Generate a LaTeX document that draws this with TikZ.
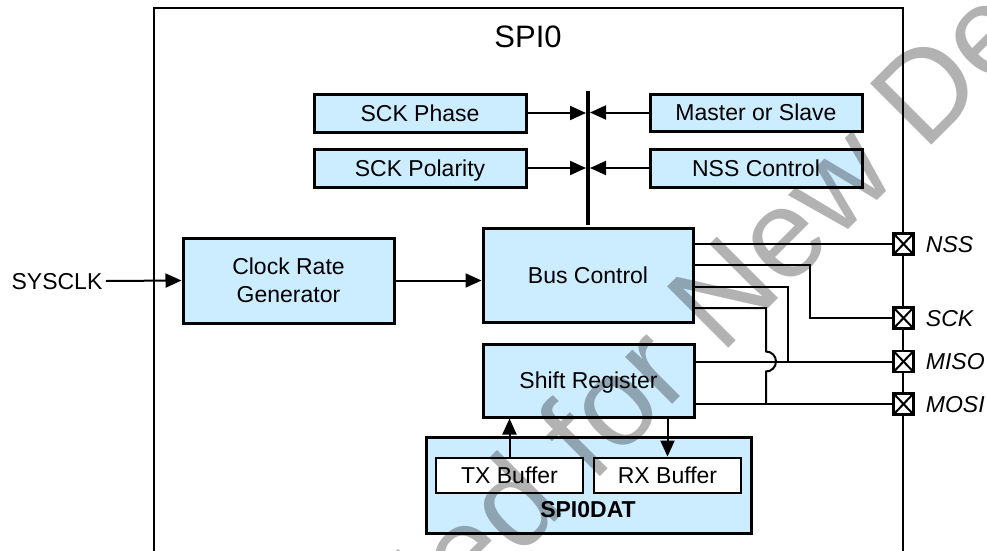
\documentclass[tikz,border=0pt]{standalone}
\usepackage{fontspec}
\setmainfont{Liberation Sans}
\usetikzlibrary{arrows.meta,calc}
\definecolor{boxblue}{RGB}{204,236,255}
\begin{document}
\begin{tikzpicture}[x=1pt,y=-1pt,
  txt/.style={font=\fontsize{23}{28}\selectfont},
  capline/.style={text height=16.6pt, text depth=0pt},
  blk/.style={draw=black, line width=3pt, fill=boxblue, inner sep=0pt, align=center, txt},
  wbox/.style={draw=black, line width=2.8pt, fill=white, inner sep=0pt, txt, capline},
  wire/.style={line width=2pt},
  arr/.style={line width=2pt, -{Triangle[length=16pt,width=14pt]}},
  port/.style={draw=black, line width=2.4pt, fill=white, minimum width=20pt, minimum height=21pt, inner sep=0pt,
    path picture={\draw[line width=2pt] (path picture bounding box.north west)--(path picture bounding box.south east)
      (path picture bounding box.north east)--(path picture bounding box.south west);}},
  plabel/.style={anchor=west, inner sep=0pt, xshift=11pt, capline, font=\fontsize{23}{27}\selectfont\itshape},
  wm/.style={text=black, opacity=0.3, font=\fontsize{126}{126}\selectfont, inner sep=0pt, rotate=45}
]
\useasboundingbox (0,0) rectangle (987,551);
\begin{scope}
\clip (0,0) rectangle (987,551);
% outer block
\draw[line width=2.4pt] (154,8) rectangle (903,600);
\node[font=\fontsize{31}{36}\selectfont, text height=22.2pt, text depth=0pt] (title) at (528,36) {SPI0};

% configuration blocks
\node[blk, capline, minimum width=212pt, minimum height=38pt] (phase) at (420,113) {SCK Phase};
\node[blk, capline, minimum width=212pt, minimum height=38pt] (pol) at (420,168) {SCK Polarity};
\node[blk, capline, minimum width=212pt, minimum height=37pt] (mos) at (756,112.5) {Master or Slave};
\node[blk, capline, minimum width=212pt, minimum height=38pt] (nssc) at (756,168) {NSS Control};

\coordinate (bustop) at (588,91);
\coordinate (busbot) at (588,225);
\draw[line width=4pt] (bustop) -- (busbot);
\draw[arr, shorten >=2pt] (phase.east) -- (phase.east -| bustop);
\draw[arr, shorten >=2pt] (pol.east) -- (pol.east -| bustop);
\draw[arr, shorten >=2pt] (mos.west) -- (mos.west -| bustop);
\draw[arr, shorten >=2pt] (nssc.west) -- (nssc.west -| bustop);

% main blocks
\node[blk, minimum width=211pt, minimum height=85pt] (crg) at (288.5,280.5) {Clock Rate\\Generator};
\node[blk, capline, minimum width=210pt, minimum height=94pt] (bus) at (588,275) {Bus Control};
\node[blk, capline, minimum width=211pt, minimum height=73pt] (shift) at (588.5,380.5) {Shift Register};
\node[blk, minimum width=325pt, minimum height=96pt] (dat) at (588.5,485) {};
\node[wbox, minimum width=147pt, minimum height=35pt] (tx) at (509.5,475.5) {TX Buffer};
\node[wbox, minimum width=147pt, minimum height=35pt] (rx) at (667.5,475.5) {RX Buffer};
\node[font=\fontsize{23}{27}\selectfont\bfseries, capline, inner sep=0pt] (datlbl) at (588,509) {SPI0DAT};

\node[txt, capline] (sysclk) at (57,281) {SYSCLK};
\draw[arr] (sysclk.east) -- (crg.west);
\draw[arr] (crg.east) -- (crg.east -| bus.west);
\draw[arr] (tx.north) -- (tx.north |- shift.south);
\draw[arr] (rx.north |- shift.south) -- (rx.north);

% ports
\node[port] (pnss) at (903.5,244) {};
\node[port] (psck) at (903.5,318) {};
\node[port] (pmiso) at (903.5,361.5) {};
\node[port] (pmosi) at (903.5,404) {};
\node[plabel] (lnss) at (pnss.east) {NSS};
\node[plabel] (lsck) at (psck.east) {SCK};
\node[plabel] (lmiso) at (pmiso.east) {MISO};
\node[plabel] (lmosi) at (pmosi.east) {MOSI};

% wiring
\coordinate (ysck) at (0,265);
\coordinate (ymiso) at (0,287);
\coordinate (ymosi) at (0,308);
\draw[wire] (bus.east |- pnss) -- (pnss.west);
\draw[wire] (bus.east |- ysck) -- (810,265) |- (psck.west);
\draw[wire] (bus.east |- ymiso) -- (788,287) -- (788,361.5);
\draw[wire] (bus.east |- ymosi) -- (766,308) -- (766,351.5) arc[start angle=-90, end angle=90, radius=10] -- (766,404);
\draw[wire] (shift.east |- pmiso) -- (pmiso.west);
\draw[wire] (shift.east |- pmosi) -- (pmosi.west);

% watermark
\node[wm, anchor=base east] (wmA) at (697,380) {Not Recommended for};
\node[wm, anchor=base west] (wmB) at (721,356) {New Designs};
\end{scope}
\end{tikzpicture}
\end{document}
